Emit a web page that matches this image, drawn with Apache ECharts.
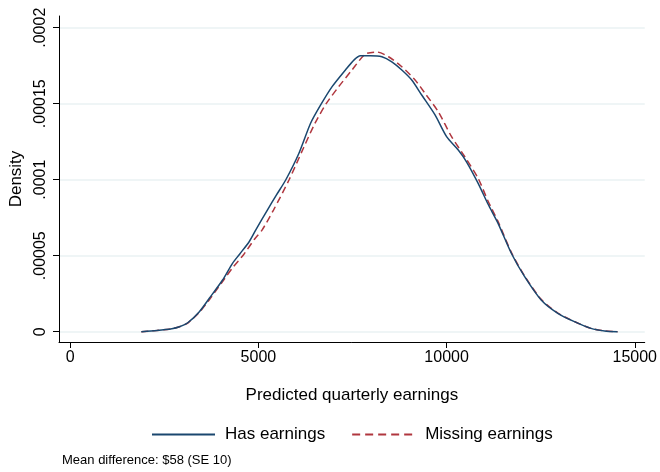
<!DOCTYPE html>
<html>
<head>
<meta charset="utf-8">
<script src="https://cdn.jsdelivr.net/npm/echarts@6/dist/echarts.min.js"></script>
<style>
html,body{margin:0;padding:0;background:#fff;}
#chart{width:660px;height:472px;}
</style>
</head>
<body>
<div id="chart"></div>
<script>
// Data (kernel density curves)
const hasX = [1889,2300,2700,2902,3122,3431,3696,4048,4312,4500,4754,4931,5238,5480,5725,6077,6386,6650,6958,7312,7550,7709,7973,8281,8545,8810,9074,9339,9693,10000,10310,10529,10839,11100,11368,11720,12074,12513,12955,13397,13836,14200,14542];
const hasY = [0,0.08e-5,0.2e-5,0.33e-5,0.59e-5,1.32e-5,2.2e-5,3.4e-5,4.5e-5,5.1e-5,5.92e-5,6.7e-5,8.0e-5,9.0e-5,9.98e-5,11.74e-5,13.71e-5,14.9e-5,16.12e-5,17.22e-5,17.9e-5,18.16e-5,18.16e-5,18.09e-5,17.76e-5,17.22e-5,16.56e-5,15.57e-5,14.26e-5,12.83e-5,11.95e-5,11.18e-5,9.76e-5,8.4e-5,7.13e-5,5.16e-5,3.62e-5,2.09e-5,1.21e-5,0.66e-5,0.22e-5,0.05e-5,0];
const missX = [1889,2300,2700,2902,3122,3431,3696,4048,4312,4600,4900,5100,5400,5812,6200,6500,6800,7133,7487,7841,8148,8458,8810,9163,9428,9780,10132,10484,10839,11100,11368,11720,12074,12513,12955,13397,13836,14200,14542];
const missY = [0,0.08e-5,0.2e-5,0.33e-5,0.57e-5,1.28e-5,2.1e-5,3.3e-5,4.2e-5,5.05e-5,6.1e-5,6.7e-5,8.0e-5,9.98e-5,12.1e-5,13.7e-5,15.0e-5,16.12e-5,17.22e-5,18.26e-5,18.4e-5,18.09e-5,17.43e-5,16.56e-5,15.68e-5,14.47e-5,12.83e-5,11.51e-5,10.09e-5,8.6e-5,7.25e-5,5.22e-5,3.66e-5,2.13e-5,1.23e-5,0.67e-5,0.22e-5,0.05e-5,0];

const seriesNames = ['Has earnings', 'Missing earnings'];
const xTickValues = [0, 5000, 10000, 15000];
const xTickLabels = ['0', '5000', '10000', '15000'];
const yTickValues = [0, 0.00005, 0.0001, 0.00015, 0.0002];
const yTickLabels = ['0', '.00005', '.0001', '.00015', '.0002'];
const xTitle = 'Predicted quarterly earnings';
const yTitle = 'Density';
const noteText = 'Mean difference: $58 (SE 10)';

const FONT = '"Liberation Sans", Arial, sans-serif';
const zip = (xs, ys) => xs.map((x, i) => [x, ys[i]]);
const fmt = (vals, labs) => v => {
  for (let i = 0; i < vals.length; i++) if (Math.abs(v - vals[i]) <= Math.abs(vals[i]) * 1e-9 + 1e-15) return labs[i];
  return '';
};

const chart = echarts.init(document.getElementById('chart'), null, {renderer: 'canvas'});
chart.setOption({
  animation: false,
  backgroundColor: '#ffffff',
  grid: {left: 59, right: 15, top: 16, bottom: 130, containLabel: false},
  xAxis: {
    type: 'value',
    min: -299, max: 15265,
    name: xTitle,
    nameLocation: 'middle',
    nameGap: 45,
    nameTextStyle: {fontFamily: FONT, fontSize: 17, color: '#000'},
    axisLine: {show: true, onZero: false, lineStyle: {color: '#000', width: 1}},
    axisTick: {show: true, length: 6, customValues: xTickValues, lineStyle: {color: '#000'}},
    axisLabel: {customValues: xTickValues, formatter: fmt(xTickValues, xTickLabels), fontFamily: FONT, fontSize: 16, color: '#000', margin: 8},
    splitLine: {show: false}
  },
  yAxis: {
    type: 'value',
    min: -6.78e-6, max: 2.077e-4,
    name: yTitle,
    nameLocation: 'middle',
    nameGap: 24,
    nameRotate: 90,
    nameTextStyle: {fontFamily: FONT, fontSize: 17, color: '#000'},
    axisLine: {show: true, onZero: false, lineStyle: {color: '#000', width: 1}},
    axisTick: {show: true, length: 6, customValues: yTickValues, lineStyle: {color: '#000'}},
    axisLabel: {customValues: yTickValues, formatter: fmt(yTickValues, yTickLabels), rotate: 90, fontFamily: FONT, fontSize: 16, color: '#000', margin: 10},
    splitLine: {show: true, lineStyle: {color: '#eaf2f3', width: 1.5}}
  },
  legend: {
    left: 146, top: 421,
    itemWidth: 63, itemHeight: 14, itemGap: 26,
    itemStyle: {opacity: 0, borderWidth: 0},
    textStyle: {fontFamily: FONT, fontSize: 17, color: '#000', padding: [0, 0, 0, 5]},
    data: [
      {name: seriesNames[0]},
      {name: seriesNames[1], lineStyle: {type: [8, 5]}}
    ]
  },
  graphic: [{
    type: 'text', left: 62, top: 454,
    style: {text: noteText, font: '13px ' + FONT, fill: '#000'}
  }],
  series: [
    {
      name: seriesNames[0], type: 'line', data: zip(hasX, hasY),
      showSymbol: false, symbol: 'none', smooth: 0.25,
      lineStyle: {color: '#1a476f', width: 1.5},
      itemStyle: {color: '#1a476f'}, z: 3
    },
    {
      name: seriesNames[1], type: 'line', data: zip(missX, missY),
      showSymbol: false, symbol: 'none', smooth: 0.25,
      lineStyle: {color: '#b0363e', width: 1.5, type: [7, 4]},
      itemStyle: {color: '#b0363e'}, z: 2
    }
  ]
});
</script>
</body>
</html>
